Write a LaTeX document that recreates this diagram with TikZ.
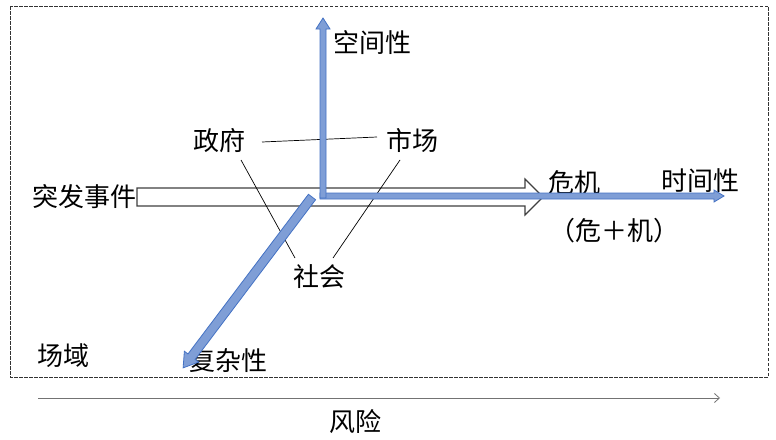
\documentclass[tikz,border=0pt]{standalone}
\usepackage{fontspec}
\newfontfamily\cjk{Noto Sans CJK SC}
\usetikzlibrary{arrows.meta,calc}
\definecolor{bfill}{RGB}{127,158,214}
\definecolor{bline}{RGB}{68,114,196}
\begin{document}
\begin{tikzpicture}[x=1pt,y=-1pt,
  lbl/.style={font=\cjk\fontsize{26}{30}\selectfont, inner sep=0pt, anchor=center},
  bluearrow/.style={fill=bfill, draw=bline, line width=0.8pt, line join=miter},
  whitearrow/.style={fill=white, draw=black!75, line width=1.1pt},
  thinline/.style={draw=black, line width=0.7pt}]
\useasboundingbox[fill=white] (0,0) rectangle (776,439);
% frame
\draw[black!80, line width=0.9pt, dash pattern=on 3.5pt off 1.5pt] (10,6) rectangle (768,377);
% risk axis
\coordinate (r0) at (38,398);
\coordinate (r1) at (720,398);
\draw[black!55, line width=0.8pt, -{Straight Barb[length=5pt,width=9pt]}] (r0) -- (r1);
% labels
\node[lbl] (kj) at (372,43) {空间性};
\node[lbl] (zf) at (219,141) {政府};
\node[lbl] (sc) at (412,141) {市场};
\node[lbl] (tf) at (84,197) {突发事件};
\node[lbl] (wj) at (574,183) {危机};
\node[lbl] (sj) at (700,181) {时间性};
\node[lbl] (wjj) at (614,231) {（危＋机）};
\node[lbl] (sh) at (319,277) {社会};
\node[lbl] (cy) at (63,356) {场域};
\node[lbl] (fz) at (228,361) {复杂性};
\node[lbl] (fx) at (355,422) {风险};
% white block arrow
\draw[whitearrow] (137,188) -- (525,188) -- (525,179) -- (543,197) -- (525,215) -- (525,206) -- (137,206) -- cycle;
% thin lines
\draw[thinline] ($(zf.center)+(22,19)$) -- ($(sh.center)+(-24,-19)$);
\draw[thinline] ($(sc.center)+(-12,19)$) -- ($(sh.center)+(14,-19)$);
\draw[thinline] ($(zf.center)+(43,1)$) -- ($(sc.center)+(-35,-4)$);
% blue horizontal arrow
\draw[bluearrow] (320,193) -- (714,193) -- (714,190) -- (724,196) -- (714,202) -- (714,199) -- (320,199) -- cycle;
% blue vertical arrow
\draw[bluearrow] (320,198) -- (320,29) -- (316,29) -- (323,18) -- (330,29) -- (326,29) -- (326,198) -- cycle;
% blue diagonal arrow
\begin{scope}[shift={(312,197)}, rotate=-127.03]
\draw[bluearrow] (0,-4.5) -- (200,-4.5) -- (200,-9) -- (214,0) -- (200,9) -- (200,4.5) -- (0,4.5) -- cycle;
\end{scope}
\end{tikzpicture}
\end{document}
